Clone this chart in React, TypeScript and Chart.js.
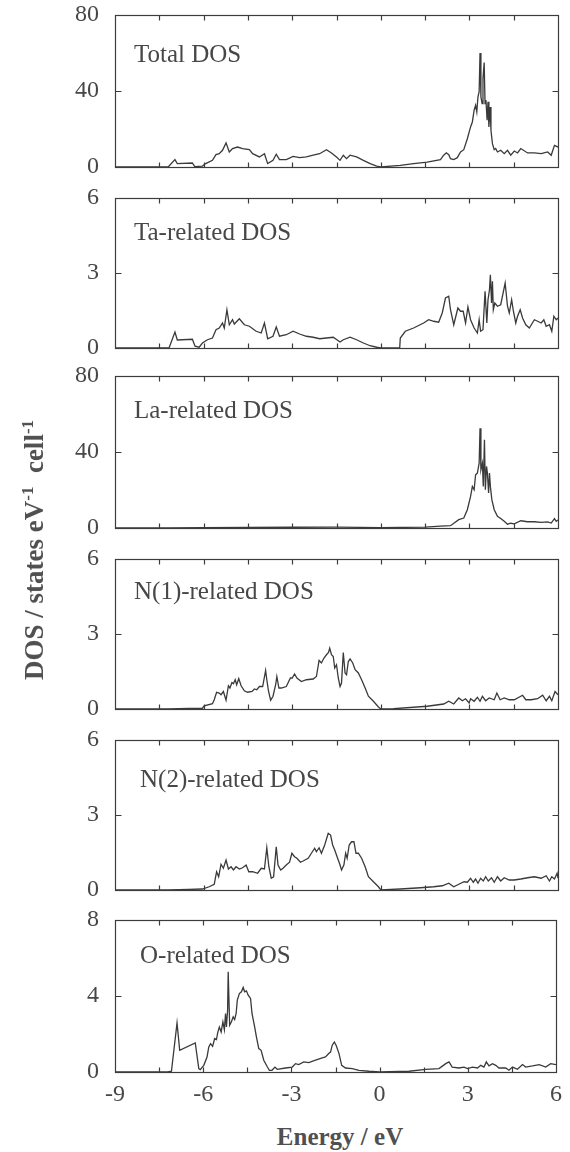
import React, { useEffect, useRef } from "react";
import { Chart, registerables } from "chart.js";

Chart.register(...registerables);

// ---------- data (energy in eV, DOS in states eV^-1 cell^-1) ----------
const energyTicks = [-9, -6, -3, 0, 3, 6];
const energyTickMarks = [-7.5, -6, -4.5, -3, -1.5, 0, 1.5, 3, 4.5];

const panelLabels = [
  "Total DOS",
  "Ta-related DOS",
  "La-related DOS",
  "N(1)-related DOS",
  "N(2)-related DOS",
  "O-related DOS",
];
const panelMax = [80, 6, 80, 6, 6, 8];

const totalDos: [number, number][] = [
  [-9, 0], [-7.2, 0], [-6.97, 3.9], [-6.89, 1.8], [-6.38, 2.1], [-6.3, 0.2], [-6.04, 0.5], [-5.93, 1.8],
  [-5.7, 3.5], [-5.58, 6.5], [-5.47, 7.0], [-5.36, 8.8], [-5.24, 12.7], [-5.13, 7.9], [-5.02, 9.7],
  [-4.85, 10.5], [-4.68, 9.7], [-4.45, 9.1], [-4.34, 7.0], [-4.11, 5.3], [-3.94, 7.0], [-3.83, 1.8],
  [-3.65, 3.5], [-3.54, 6.7], [-3.43, 3.9], [-3.2, 3.9], [-2.97, 5.6], [-2.75, 4.9], [-2.52, 5.3],
  [-2.29, 6.2], [-2.07, 7.0], [-1.84, 9.1], [-1.67, 7.4], [-1.5, 5.3], [-1.38, 3.5], [-1.27, 6.2],
  [-1.16, 4.4], [-1.04, 6.2], [-0.82, 5.3], [-0.59, 3.5], [-0.36, 1.8], [-0.14, 0.5], [0, 0],
  [0.66, 0.9], [1.11, 1.8], [1.57, 2.6], [2.02, 3.9], [2.13, 6.2], [2.22, 7.5], [2.3, 6.5], [2.36, 4.4],
  [2.47, 3.9], [2.59, 4.9], [2.7, 7.9], [2.81, 9.1], [2.93, 14.9], [3.04, 21.1], [3.1, 23.7],
  [3.16, 29.9], [3.21, 32.5], [3.25, 29.0], [3.29, 36.9], [3.33, 39.6], [3.36, 60], [3.39, 36.9],
  [3.43, 33.4], [3.46, 46.6], [3.5, 55], [3.53, 33.4], [3.56, 35.2], [3.6, 24.6], [3.63, 34.3],
  [3.66, 21.1], [3.7, 31.6], [3.73, 19.3], [3.78, 12.3], [3.84, 9.1], [3.89, 9.7], [3.95, 7.9],
  [4.06, 8.8], [4.18, 7.0], [4.29, 8.8], [4.4, 6.2], [4.52, 8.4], [4.63, 7.4], [4.74, 9.7], [4.97, 7.4],
  [5.2, 7.4], [5.43, 7.0], [5.65, 7.9], [5.77, 6.2], [5.88, 11.4], [6, 10.5],
];

const taDos: [number, number][] = [
  [-9, 0], [-7.17, 0], [-6.97, 0.64], [-6.89, 0.32], [-6.38, 0.35], [-6.29, 0.07], [-6.15, 0.03],
  [-6.04, 0.2], [-5.87, 0.33], [-5.7, 0.4], [-5.58, 0.73], [-5.47, 0.8], [-5.36, 1.0], [-5.3, 0.8],
  [-5.21, 1.53], [-5.13, 0.93], [-5.02, 1.13], [-4.96, 0.96], [-4.79, 1.17], [-4.62, 0.93], [-4.45, 0.87],
  [-4.22, 0.67], [-4.05, 0.6], [-3.94, 1.0], [-3.83, 0.37], [-3.65, 0.47], [-3.54, 0.84], [-3.43, 0.47],
  [-3.2, 0.53], [-2.97, 0.67], [-2.75, 0.56], [-2.52, 0.47], [-2.29, 0.43], [-2.07, 0.37], [-1.84, 0.4],
  [-1.61, 0.43], [-1.38, 0.24], [-1.27, 0.33], [-1.04, 0.43], [-0.82, 0.33], [-0.59, 0.2], [-0.36, 0.09],
  [-0.14, 0.03], [0, 0], [0.64, 0], [0.66, 0.4], [0.83, 0.67], [1.11, 0.8], [1.45, 1.0], [1.62, 1.13],
  [1.79, 1.07], [1.96, 1.03], [2.08, 1.4], [2.19, 2.0], [2.3, 2.07], [2.36, 1.53], [2.47, 0.93],
  [2.61, 1.6], [2.7, 1.47], [2.79, 1.47], [2.87, 1.0], [2.95, 1.64], [3.04, 1.13], [3.16, 0.8],
  [3.27, 0.6], [3.33, 1.13], [3.38, 0.67], [3.46, 0.73], [3.53, 2.27], [3.59, 1.0], [3.63, 1.93],
  [3.68, 2.33], [3.71, 2.93], [3.75, 1.8], [3.78, 2.67], [3.81, 1.53], [3.86, 1.8], [3.95, 1.67],
  [4.06, 1.73], [4.21, 2.6], [4.29, 1.67], [4.35, 1.4], [4.43, 1.93], [4.49, 1.47], [4.57, 1.0],
  [4.63, 1.27], [4.72, 1.53], [4.8, 1.2], [4.91, 0.93], [5.03, 0.8], [5.2, 1.13], [5.31, 1.07],
  [5.43, 1.0], [5.52, 1.13], [5.6, 0.87], [5.71, 0.93], [5.79, 0.67], [5.86, 1.27], [5.94, 1.13], [6, 1.2],
];

const laDos: [number, number][] = [
  [-9, 0], [-7.2, 0], [-6, 0.2], [-3, 0.4], [-1.5, 0.5], [0, 0.2], [0.66, 0.3], [1.5, 0.5], [2.02, 1.0],
  [2.36, 1.2], [2.64, 4.4], [2.81, 5.25], [2.93, 9.6], [3.04, 16.6], [3.1, 21.9], [3.16, 20.1],
  [3.21, 28], [3.27, 28.9], [3.33, 34.1], [3.36, 52.5], [3.39, 30.6], [3.44, 34.1], [3.47, 21.9],
  [3.51, 46.4], [3.54, 20.1], [3.58, 32.4], [3.61, 28.9], [3.65, 18.4], [3.68, 28.9], [3.71, 21.9],
  [3.76, 14.9], [3.84, 9.6], [3.95, 6.1], [4.06, 5.0], [4.18, 3.5], [4.29, 2.0], [4.4, 2.5], [4.52, 2.2],
  [4.74, 3.8], [4.97, 3.3], [5.2, 3.3], [5.43, 3.0], [5.65, 3.2], [5.77, 2.6], [5.88, 4.9], [5.94, 3.5],
  [6, 4.2],
];

const n1Dos: [number, number][] = [
  [-9, 0], [-7.2, 0], [-6.5, 0.02], [-6.04, 0.03], [-5.98, 0.13], [-5.7, 0.21], [-5.64, 0.37],
  [-5.56, 0.67], [-5.47, 0.64], [-5.41, 0.57], [-5.33, 0.7], [-5.24, 0.35], [-5.16, 0.93], [-5.11, 0.84],
  [-5.04, 1.06], [-4.99, 1.01], [-4.93, 1.17], [-4.88, 0.97], [-4.81, 1.22], [-4.73, 0.93], [-4.62, 0.73],
  [-4.51, 0.67], [-4.36, 0.7], [-4.28, 0.8], [-4.2, 0.77], [-4.11, 0.9], [-4.0, 0.9], [-3.9, 1.54],
  [-3.86, 1.17], [-3.8, 0.7], [-3.73, 0.35], [-3.65, 0.51], [-3.56, 0.97], [-3.52, 1.3], [-3.45, 0.84],
  [-3.37, 0.84], [-3.2, 0.9], [-3.06, 1.24], [-3.0, 1.24], [-2.92, 1.4], [-2.84, 1.24], [-2.69, 1.1],
  [-2.52, 1.17], [-2.29, 1.2], [-2.18, 1.3], [-2.09, 1.94], [-2.01, 1.84], [-1.93, 2.03], [-1.84, 2.17],
  [-1.77, 2.26], [-1.73, 2.43], [-1.67, 2.17], [-1.61, 2.1], [-1.56, 1.64], [-1.5, 1.77], [-1.44, 1.24],
  [-1.38, 0.9], [-1.33, 1.04], [-1.27, 2.26], [-1.21, 1.44], [-1.16, 1.37], [-1.1, 1.9], [-1.04, 2.0],
  [-0.95, 1.84], [-0.87, 1.57], [-0.76, 1.44], [-0.65, 1.17], [-0.53, 0.84], [-0.42, 0.51], [-0.25, 0.31],
  [-0.08, 0.08], [0, 0], [0.43, 0.01], [1.57, 0.11], [2.13, 0.2], [2.3, 0.31], [2.47, 0.2], [2.64, 0.44],
  [2.76, 0.33], [2.87, 0.41], [2.99, 0.24], [3.04, 0.41], [3.16, 0.31], [3.27, 0.47], [3.36, 0.31],
  [3.44, 0.51], [3.55, 0.33], [3.67, 0.44], [3.84, 0.37], [3.93, 0.64], [4.04, 0.37], [4.18, 0.44],
  [4.35, 0.37], [4.52, 0.37], [4.8, 0.55], [4.91, 0.37], [5.09, 0.37], [5.31, 0.41], [5.48, 0.55],
  [5.6, 0.33], [5.71, 0.51], [5.79, 0.33], [5.9, 0.7], [6, 0.57],
];

const n2Dos: [number, number][] = [
  [-9, 0], [-7.2, 0], [-6.5, 0.02], [-6.04, 0.04], [-5.81, 0.13], [-5.64, 0.23], [-5.56, 0.73],
  [-5.49, 0.53], [-5.41, 1.03], [-5.33, 0.87], [-5.24, 1.2], [-5.16, 0.84], [-5.07, 0.93], [-4.99, 0.8],
  [-4.9, 0.93], [-4.79, 0.84], [-4.68, 0.89], [-4.56, 1.0], [-4.47, 0.73], [-4.34, 0.73], [-4.17, 0.67],
  [-4.05, 0.87], [-3.94, 0.84], [-3.86, 1.69], [-3.79, 0.93], [-3.71, 0.47], [-3.63, 0.53], [-3.54, 1.73],
  [-3.48, 1.0], [-3.39, 0.8], [-3.31, 0.87], [-3.2, 1.0], [-3.09, 1.11], [-3.01, 1.47], [-2.92, 1.33],
  [-2.84, 1.27], [-2.72, 1.11], [-2.63, 1.16], [-2.46, 1.27], [-2.35, 1.47], [-2.24, 1.67], [-2.18, 1.53],
  [-2.09, 1.69], [-2.01, 1.47], [-1.9, 1.8], [-1.78, 2.27], [-1.7, 2.2], [-1.63, 1.8], [-1.56, 1.6],
  [-1.48, 1.33], [-1.38, 1.0], [-1.33, 0.8], [-1.25, 1.0], [-1.19, 1.47], [-1.14, 1.27], [-1.07, 1.8],
  [-0.99, 1.93], [-0.91, 1.93], [-0.84, 1.47], [-0.76, 1.47], [-0.65, 1.27], [-0.53, 0.93], [-0.42, 0.53],
  [-0.25, 0.33], [-0.08, 0.13], [0, 0], [0.66, 0.04], [1.34, 0.09], [1.79, 0.13], [2.08, 0.17],
  [2.3, 0.27], [2.47, 0.13], [2.64, 0.23], [2.82, 0.33], [2.93, 0.31], [3.04, 0.47], [3.13, 0.31],
  [3.21, 0.44], [3.29, 0.27], [3.38, 0.47], [3.47, 0.36], [3.55, 0.53], [3.64, 0.36], [3.75, 0.49],
  [3.84, 0.31], [3.95, 0.53], [4.06, 0.36], [4.18, 0.49], [4.35, 0.4], [4.52, 0.4], [4.74, 0.44],
  [4.97, 0.49], [5.2, 0.53], [5.43, 0.47], [5.6, 0.57], [5.71, 0.36], [5.79, 0.53], [5.88, 0.44],
  [5.97, 0.67], [6, 0.47],
];

const oDos: [number, number][] = [
  [-9, 0], [-7.2, 0], [-7.08, 0.04], [-6.89, 2.58], [-6.8, 1.14], [-6.27, 1.53], [-6.15, 0.18],
  [-6.1, 0.12], [-5.98, 0.35], [-5.87, 0.79], [-5.81, 1.32], [-5.75, 1.49], [-5.68, 1.35], [-5.61, 1.76],
  [-5.55, 1.71], [-5.5, 2.11], [-5.45, 2.37], [-5.39, 2.11], [-5.33, 2.64], [-5.28, 2.23], [-5.24, 3.08],
  [-5.21, 2.37], [-5.17, 3.25], [-5.15, 5.27], [-5.1, 2.46], [-5.04, 2.64], [-4.98, 2.9], [-4.93, 2.76],
  [-4.88, 3.08], [-4.84, 3.78], [-4.77, 4.13], [-4.7, 4.22], [-4.64, 4.45], [-4.59, 4.22], [-4.53, 4.27],
  [-4.47, 4.04], [-4.39, 3.87], [-4.34, 3.08], [-4.25, 2.37], [-4.19, 1.85], [-4.11, 1.23], [-4.03, 1.14],
  [-3.94, 0.62], [-3.83, 0.3], [-3.75, 0.09], [-3.66, 0.09], [-3.56, 0.26], [-3.48, 0.14], [-3.2, 0.21],
  [-2.97, 0.26], [-2.86, 0.44], [-2.75, 0.39], [-2.58, 0.53], [-2.41, 0.49], [-2.18, 0.62], [-1.95, 0.74],
  [-1.84, 0.79], [-1.73, 0.97], [-1.67, 1.05], [-1.61, 1.41], [-1.54, 1.58], [-1.48, 1.41], [-1.38, 0.97],
  [-1.29, 0.35], [-1.16, 0.21], [-0.93, 0.18], [-0.7, 0.09], [-0.36, 0.04], [0, 0], [1.0, 0.04],
  [1.57, 0.14], [2.02, 0.18], [2.25, 0.44], [2.36, 0.53], [2.47, 0.26], [2.7, 0.21], [2.87, 0.26],
  [2.99, 0.18], [3.16, 0.26], [3.33, 0.21], [3.44, 0.35], [3.55, 0.26], [3.63, 0.53], [3.72, 0.32],
  [3.84, 0.44], [3.95, 0.35], [4.06, 0.21], [4.29, 0.21], [4.4, 0.09], [4.52, 0.26], [4.69, 0.14],
  [4.86, 0.39], [4.97, 0.26], [5.2, 0.32], [5.43, 0.39], [5.65, 0.26], [5.82, 0.44], [6, 0.39],
];

const panelSeries = [totalDos, taDos, laDos, n1Dos, n2Dos, oDos];

// ---------- layout ----------
const PAGE_W = 570;
const PLOT_LEFT = 115;
const PLOT_RIGHT = 558;
const plotTops = [15, 198, 376, 559, 740, 920];
const plotBottoms = [167, 348, 528, 709, 890, 1072];
const labelLefts = [134, 134, 134, 134, 140, 140];
const labelBaselines = [62, 240, 418, 599, 787, 963];

const SERIF = '"Liberation Serif", "Times New Roman", Times, serif';
const TEXT_COLOR = "#474747";
const LINE_COLOR = "#3a3a3a";
const PAD_TOP = 34;
const PAD_BOTTOM = 34;
const XAXIS_H = 44;

const framePlugin = {
  id: "frameTicks",
  afterDraw(chart: any) {
    const { ctx, chartArea: a, scales } = chart;
    const x = scales.x;
    const y = scales.y;
    ctx.save();
    ctx.strokeStyle = "#3c3c3c";
    ctx.lineWidth = 1.2;
    const l = Math.round(a.left) + 0.5;
    const r = Math.round(a.right) + 0.5;
    const t = Math.round(a.top) + 0.5;
    const b = Math.round(a.bottom) + 0.5;
    ctx.strokeRect(l, t, r - l, b - t);
    ctx.beginPath();
    for (const v of energyTickMarks) {
      const px = Math.round(x.getPixelForValue(v)) + 0.5;
      ctx.moveTo(px, b);
      ctx.lineTo(px, b - 5);
      ctx.moveTo(px, t);
      ctx.lineTo(px, t + 5);
    }
    const mid = Math.round(y.getPixelForValue((y.max as number) / 2)) + 0.5;
    ctx.moveTo(l, mid);
    ctx.lineTo(l + 6, mid);
    ctx.moveTo(r, mid);
    ctx.lineTo(r - 6, mid);
    ctx.stroke();
    ctx.restore();
  },
};

function Panel({ index }: { index: number }) {
  const ref = useRef<HTMLCanvasElement | null>(null);
  const isLast = index === panelSeries.length - 1;
  const plotH = plotBottoms[index] - plotTops[index];
  const height = PAD_TOP + plotH + (isLast ? XAXIS_H : PAD_BOTTOM);
  const top = plotTops[index] - PAD_TOP;

  useEffect(() => {
    if (!ref.current) return;
    const yMax = panelMax[index];
    const chart = new Chart(ref.current, {
      type: "line",
      data: {
        datasets: [
          {
            data: panelSeries[index].map(([e, d]) => ({ x: e, y: d })),
            borderColor: LINE_COLOR,
            borderWidth: 1.3,
            pointRadius: 0,
            tension: 0,
            fill: false,
          },
        ],
      },
      options: {
        animation: false,
        responsive: true,
        maintainAspectRatio: false,
        devicePixelRatio: 1,
        layout: {
          padding: { top: PAD_TOP, right: PAGE_W - PLOT_RIGHT, bottom: isLast ? 0 : PAD_BOTTOM, left: 0 },
        },
        plugins: { legend: { display: false }, tooltip: { enabled: false } },
        scales: {
          x: {
            type: "linear",
            min: -9,
            max: 6,
            display: isLast,
            grid: { display: false, drawTicks: false },
            border: { display: false },
            afterBuildTicks: (s: any) => {
              s.ticks = energyTicks.map((v) => ({ value: v }));
            },
            ticks: {
              color: TEXT_COLOR,
              padding: 8,
              maxRotation: 0,
              autoSkip: false,
              font: { family: SERIF, size: 24 },
              callback: (v: any) => String(v),
            },
            afterFit: (s: any) => {
              s.height = isLast ? XAXIS_H : 0;
            },
          },
          y: {
            type: "linear",
            min: 0,
            max: yMax,
            grid: { display: false, drawTicks: false },
            border: { display: false },
            ticks: {
              stepSize: yMax / 2,
              color: TEXT_COLOR,
              padding: 16,
              font: { family: SERIF, size: 24 },
            },
            afterFit: (s: any) => {
              s.width = PLOT_LEFT;
            },
          },
        },
      },
      plugins: [framePlugin],
    });
    return () => chart.destroy();
  }, [index]);

  return (
    <div style={{ position: "absolute", left: 0, top, width: PAGE_W, height }}>
      <canvas ref={ref} />
    </div>
  );
}

export default function App() {
  return (
    <div
      style={{
        position: "absolute",
        left: 0,
        top: 0,
        width: PAGE_W,
        height: 1152,
        background: "#fff",
        overflow: "hidden",
        fontFamily: SERIF,
      }}
    >
      {panelLabels.map((_, i) => (
        <Panel key={i} index={i} />
      ))}
      {panelLabels.map((label, i) => (
        <div
          key={"l" + i}
          style={{
            position: "absolute",
            left: labelLefts[i],
            top: labelBaselines[i] - 21,
            fontSize: 25,
            lineHeight: "25px",
            color: TEXT_COLOR,
            whiteSpace: "nowrap",
          }}
        >
          {label}
        </div>
      ))}
      <div
        style={{
          position: "absolute",
          left: 31,
          top: 550,
          transform: "translate(-50%, -50%) rotate(-90deg)",
          fontSize: 27,
          fontWeight: "bold",
          color: "#505050",
          whiteSpace: "nowrap",
          lineHeight: "27px",
        }}
      >
        DOS / states eV<sup style={{ fontSize: 17 }}>-1</sup>&nbsp; cell<sup style={{ fontSize: 17 }}>-1</sup>
      </div>
      <div
        style={{
          position: "absolute",
          left: 340,
          top: 1136,
          transform: "translate(-50%, -50%)",
          fontSize: 25,
          fontWeight: "bold",
          color: "#505050",
          whiteSpace: "nowrap",
          lineHeight: "25px",
        }}
      >
        Energy / eV
      </div>
    </div>
  );
}
